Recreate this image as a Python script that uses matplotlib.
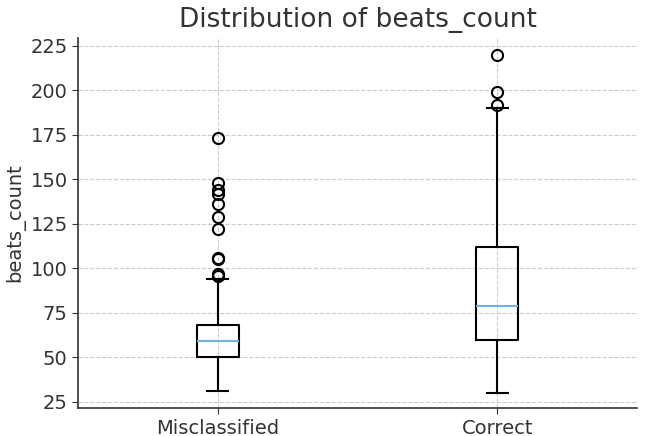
import matplotlib
matplotlib.use("Agg")
import matplotlib.pyplot as plt

# summary stats
labels = ["Misclassified", "Correct"]
q1 = [50, 60]
med = [59, 79]
q3 = [68, 112]
whislo = [31, 30]
whishi = [94, 190]
fliers_mis = [96, 97, 105, 106, 122, 129, 136, 142, 144, 148, 173]
fliers_cor = [192, 199, 220]
fliers = [fliers_mis, fliers_cor]

stats = []
for i in range(len(labels)):
    stats.append(dict(label=labels[i], q1=q1[i], med=med[i], q3=q3[i],
                      whislo=whislo[i], whishi=whishi[i], fliers=fliers[i]))

txt = "#333333"
fig = plt.figure(figsize=(6.45, 4.36), dpi=100)
ax = fig.add_axes([0.121, 0.064, 0.867, 0.849])

ax.bxp(stats, positions=[1, 2], widths=0.15,
       boxprops=dict(color="black", linewidth=1.5),
       whiskerprops=dict(color="black", linewidth=1.5),
       capprops=dict(color="black", linewidth=1.5),
       medianprops=dict(color="#72b2e0", linewidth=1.5),
       flierprops=dict(marker="o", markersize=8, markerfacecolor="none",
                       markeredgecolor="black", markeredgewidth=1.5))

ax.set_xlim(0.5, 2.5)
ax.set_ylim(21.5, 229.5)
ax.set_yticks([25, 50, 75, 100, 125, 150, 175, 200, 225])
ax.grid(True, linestyle="--", color="#cccccc", linewidth=0.8)
ax.set_axisbelow(True)
for s in ["top", "right"]:
    ax.spines[s].set_visible(False)
for s in ["left", "bottom"]:
    ax.spines[s].set_color("#333333")
    ax.spines[s].set_linewidth(1.2)

ax.tick_params(labelsize=14, colors=txt, length=4)
ax.set_ylabel("beats_count", fontsize=14, color=txt)
ax.set_title("Distribution of beats_count", fontsize=19, color=txt, pad=8)

fig.savefig("out.png", dpi=100)
